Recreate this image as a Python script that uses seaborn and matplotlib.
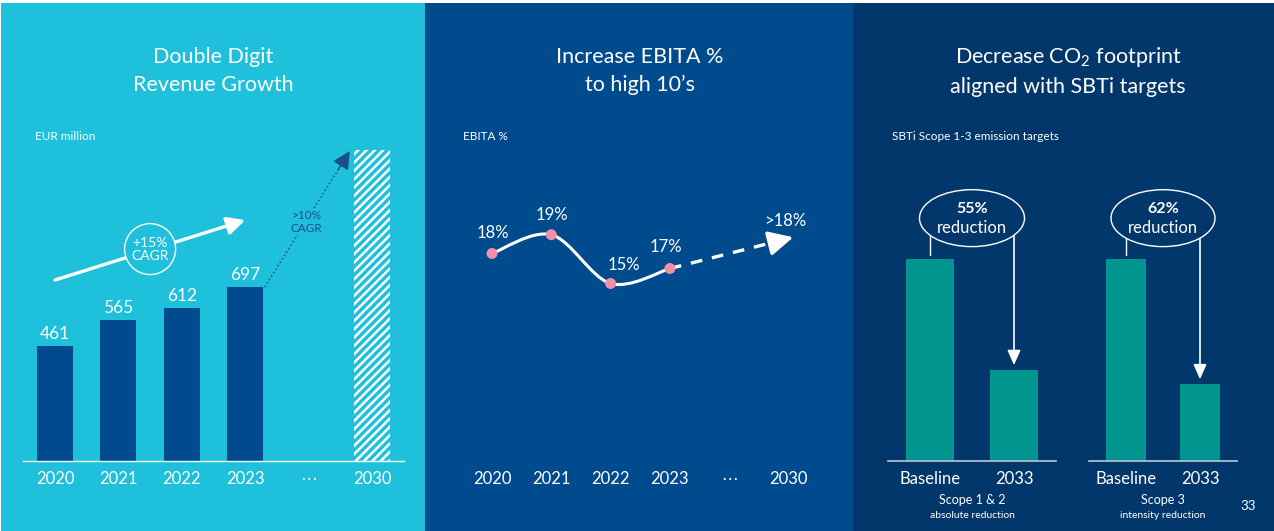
import numpy as np
import pandas as pd
import seaborn as sns
import matplotlib.pyplot as plt
from matplotlib.patches import Rectangle, Ellipse, PathPatch
from matplotlib.path import Path

# Revenue (EUR million)
rev_years = ['2020', '2021', '2022', '2023', '\u22ef', '2030']
rev_values = [461, 565, 612, 697, None, 1245]
rev_labels = ['461', '565', '612', '697']

# EBITA %
ebita_years = ['2020', '2021', '2022', '2023', '\u22ef', '2030']
ebita_values = [17.8, 19.3, 15.4, 16.6]
ebita_labels = ['18%', '19%', '15%', '17%']
ebita_target = 19.1
ebita_target_label = '>18%'

# SBTi targets (baseline = 100)
co2_cats = ['Baseline', '2033']
scope12_values = [100, 45]
scope3_values = [100, 38]

# colours
CYAN = '#1FC0DC'
MID = '#004B8D'
DARK = '#01376A'
BAR = '#004B8D'
TEAL = '#00968F'
PINK = '#F390A8'
NAVY_TXT = '#1A4F8C'

sns.set_theme(style='white')
plt.rcParams['font.family'] = ['Lato', 'DejaVu Sans']
plt.rcParams['mathtext.fontset'] = 'custom'
plt.rcParams['mathtext.rm'] = 'Lato'
plt.rcParams['mathtext.default'] = 'regular'
plt.rcParams['hatch.linewidth'] = 1.8

W, H = 1274, 531
fig = plt.figure(figsize=(W / 100, H / 100), dpi=100)
fig.patch.set_facecolor('white')


def fx(px):
    return px / W


def fy(py):
    return 1 - py / H


def add_ax(x0, x1, ybot, ytop):
    ax = fig.add_axes([fx(x0), fy(ybot), (x1 - x0) / W, (ybot - ytop) / H])
    ax.patch.set_alpha(0)
    for s in ax.spines.values():
        s.set_visible(False)
    ax.set_yticks([])
    ax.tick_params(axis='x', length=0, pad=7, labelsize=12, labelcolor='white')
    return ax


def styled_arrow(ax, start, end, color, lw, ls, scale, head='-|>,head_length=0.9,head_width=0.45'):
    # styled shaft plus a solid filled head
    start = np.asarray(start, float)
    end = np.asarray(end, float)
    mid = start + 0.9 * (end - start)
    ax.plot([start[0], mid[0]], [start[1], mid[1]], color=color, lw=lw, ls=ls,
            solid_capstyle='butt', dash_capstyle='butt', zorder=2)
    near = start + 0.86 * (end - start)
    ax.annotate('', xy=tuple(end), xytext=tuple(near),
                arrowprops=dict(arrowstyle=head, color=color, lw=lw, mutation_scale=scale,
                                shrinkA=0, shrinkB=0), zorder=2)


# panel backgrounds
for x0, x1, c in [(1, 425, CYAN), (425, 853, MID), (853, W, DARK)]:
    fig.add_artist(Rectangle((fx(x0), 0), (x1 - x0) / W, fy(3), transform=fig.transFigure,
                             facecolor=c, edgecolor='none', zorder=0))

# titles
title_kw = dict(ha='center', va='center', color='white', fontsize=15.5, linespacing=1.5)
fig.text(fx(213), fy(71), 'Double Digit\nRevenue Growth', **title_kw)
fig.text(fx(640), fy(71), 'Increase EBITA %\nto high 10\u2019s', **title_kw)
fig.text(fx(1068), fy(71), 'Decrease CO$_2$ footprint\naligned with SBTi targets', **title_kw)

sub_kw = dict(ha='left', va='center', color='white', fontsize=8.5)
fig.text(fx(35), fy(137), 'EUR million', **sub_kw)
fig.text(fx(463), fy(137), 'EBITA %', **sub_kw)
fig.text(fx(892), fy(137), 'SBTi Scope 1-3 emission targets', **sub_kw)
fig.text(fx(1248), fy(506), '33', ha='center', va='center', color='white', fontsize=9.5)

# ---- left: revenue bars ----
ax1 = add_ax(23.3, 403.7, 461, 136.5)
rev_df = pd.DataFrame({'year': rev_years, 'value': rev_values}).dropna()
pal = {y: BAR for y in rev_years}
pal['2030'] = CYAN
sns.barplot(data=rev_df, x='year', y='value', order=rev_years, hue='year', palette=pal,
            width=0.57, saturation=1, legend=False, linewidth=0, ax=ax1)
last = max(ax1.patches, key=lambda p: p.get_height())
last.set_hatch('////')
last.set_edgecolor('white')
last.set_linewidth(0)
ax1.set_xlim(-0.5, 5.5)
ax1.set_ylim(0, 1300)
ax1.set_xlabel('')
ax1.set_ylabel('')
ax1.set_yticks([])
ax1.spines['bottom'].set_visible(True)
ax1.spines['bottom'].set_color('white')
ax1.spines['bottom'].set_linewidth(1)
for i, lab in enumerate(rev_labels):
    ax1.annotate(lab, (i, rev_values[i]), xytext=(0, 12), textcoords='offset pixels',
                 ha='center', va='center', color='white', fontsize=12.5)

# +15% CAGR arrow
ax1.annotate('', xy=(3.0, 965), xytext=(0, 725),
             arrowprops=dict(arrowstyle='-|>,head_length=0.9,head_width=0.45', color='white',
                             lw=2.4, mutation_scale=12, shrinkA=0, shrinkB=0))
ax1.add_patch(Ellipse((1.5, 849), 0.804, 204, facecolor=CYAN, edgecolor='white', lw=1,
                      zorder=5, clip_on=False))
ax1.text(1.5, 849, '+15%\nCAGR', ha='center', va='center', color='white', fontsize=10,
         linespacing=1.1, zorder=6)

# >10% CAGR dotted arrow
styled_arrow(ax1, (3.31, 697), (4.65, 1242), NAVY_TXT, 1.1, ':', 12)
ax1.text(3.97, 957, '>10%\nCAGR', ha='center', va='center', color=NAVY_TXT, fontsize=8.5,
         linespacing=1.15, zorder=6,
         bbox=dict(facecolor=CYAN, edgecolor='none', pad=1))

# ---- middle: EBITA line ----
ax2 = add_ax(462.35, 818.15, 461, 201)
xs = np.arange(len(ebita_values))
pts = np.column_stack([xs, ebita_values]).astype(float)
ext = np.vstack([pts[0], pts, pts[-1]])
verts = [tuple(pts[0])]
codes = [Path.MOVETO]
for i in range(len(pts) - 1):
    p0, p1, p2, p3 = ext[i], ext[i + 1], ext[i + 2], ext[i + 3]
    c1 = p1 + (p2 - p0) / 6
    c2 = p2 - (p3 - p1) / 6
    verts += [tuple(c1), tuple(c2), tuple(p2)]
    codes += [Path.CURVE4] * 3
ax2.add_patch(PathPatch(Path(verts, codes), facecolor='none', edgecolor='white', lw=2.2, zorder=3))
sns.scatterplot(x=xs, y=ebita_values, color=PINK, s=62, edgecolor='none', zorder=4, ax=ax2)
offsets = [(1, 21), (1, 20), (13, 18), (-4, 21)]
for i, lab in enumerate(ebita_labels):
    ax2.annotate(lab, (xs[i], ebita_values[i]), xytext=offsets[i], textcoords='offset pixels',
                 ha='center', va='center', color='white', fontsize=12)
styled_arrow(ax2, (3, ebita_values[-1]), (5.08, ebita_target), 'white', 2.4, (0, (3.5, 3)), 15,
             head='-|>,head_length=1.0,head_width=0.5')
ax2.text(4.94, ebita_target + 1.3, ebita_target_label, ha='center', va='center',
         color='white', fontsize=12)
ax2.set_xlim(-0.5, 5.5)
ax2.set_ylim(1.2, 22)
ax2.set_xticks(range(len(ebita_years)), ebita_years)
ax2.set_yticks([])


# ---- right: SBTi bars ----
def sbti(ax, values, width, ell_w, pct, title, sub):
    df = pd.DataFrame({'cat': co2_cats, 'value': values})
    sns.barplot(data=df, x='cat', y='value', color=TEAL, saturation=1, width=width,
                linewidth=0, ax=ax)
    ax.set_xlim(-0.5, 1.5)
    ax.set_ylim(0, 160)
    ax.set_xlabel('')
    ax.set_ylabel('')
    ax.set_yticks([])
    ax.spines['bottom'].set_visible(True)
    ax.spines['bottom'].set_color('#B9C7D6')
    ax.spines['bottom'].set_linewidth(1.2)
    ax.plot([0, 0], [values[0] + 2, 125], color='white', lw=1, zorder=2)
    ax.annotate('', xy=(1, values[1] + 2.5), xytext=(1, 125),
                arrowprops=dict(arrowstyle='-|>,head_length=0.9,head_width=0.4', color='white',
                                lw=1.2, mutation_scale=10, shrinkA=0, shrinkB=0), zorder=2)
    ax.add_patch(Ellipse((0.5, 120.3), ell_w, 28.2, facecolor=DARK, edgecolor='white', lw=1,
                         zorder=3, clip_on=False))
    ax.text(0.5, 124.8, pct, ha='center', va='center', color='white', fontsize=11.5,
            fontweight='bold', zorder=4)
    ax.text(0.5, 115.3, 'reduction', ha='center', va='center', color='white', fontsize=12,
            zorder=4)
    ax.annotate(title, (0.5, 0), xycoords='axes fraction', xytext=(0, -39),
                textcoords='offset pixels', ha='center', va='center', color='white', fontsize=9)
    ax.annotate(sub, (0.5, 0), xycoords='axes fraction', xytext=(0, -54),
                textcoords='offset pixels', ha='center', va='center', color='white', fontsize=7.5)


ax3 = add_ax(888, 1056, 461, 138)
sbti(ax3, scope12_values, 0.56, 1.25, '55%', 'Scope 1 & 2', 'absolute reduction')
ax4 = add_ax(1089, 1237, 461, 138)
sbti(ax4, scope3_values, 0.55, 1.405, '62%', 'Scope 3', 'intensity reduction')

fig.savefig('out.png', dpi=100, facecolor=fig.get_facecolor())
